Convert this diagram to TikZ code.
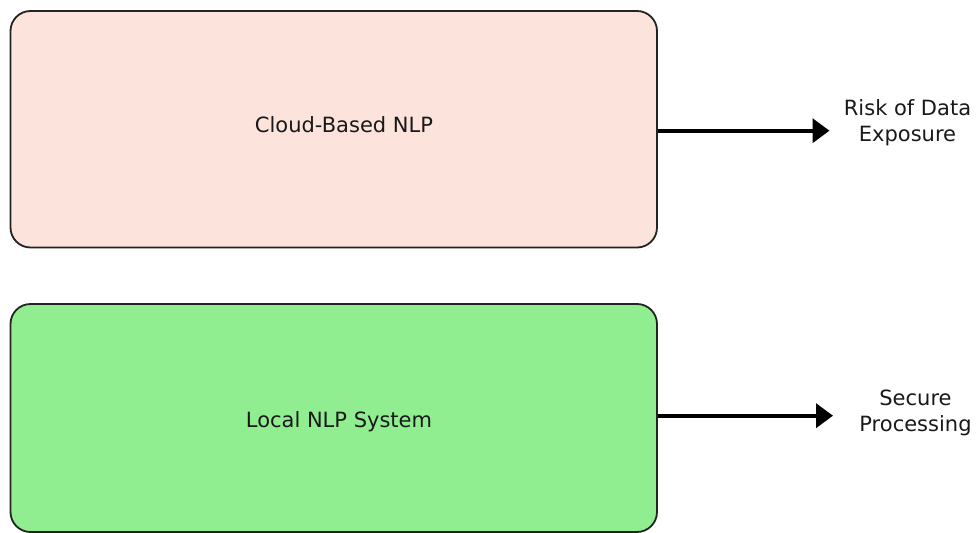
\documentclass[tikz,border=0pt]{standalone}
\usepackage{fontspec}
\setmainfont{DejaVu Sans}
\usetikzlibrary{arrows.meta}
\definecolor{cloudfill}{RGB}{252,228,220}
\definecolor{localfill}{RGB}{144,238,144}
\definecolor{edge}{RGB}{35,35,35}
\definecolor{ink}{RGB}{25,25,25}
\tikzset{
  panel/.style={draw=edge, line width=1.8pt, rounded corners=20pt, inner sep=0pt},
  paneltext/.style={font=\fontsize{21}{26}\selectfont, text=ink, inner sep=0pt, anchor=base},
  outcome/.style={font=\fontsize{21}{26}\selectfont, text=ink, inner sep=0pt, align=center, anchor=base},
  flow/.style={draw=black, line width=3.8pt, -{Triangle[length=17pt,width=24pt]}}
}
\begin{document}
\begin{tikzpicture}[x=1pt, y=-1pt]
  \useasboundingbox (0,0) rectangle (978,533);
  % the two system panels
  \node[panel, fill=cloudfill, minimum width=646.5pt, minimum height=236.5pt] (cloud) at (333.75,129.25) {};
  \node[panel, fill=localfill, minimum width=646.5pt, minimum height=228pt] (local) at (333.75,418) {};
  \node[paneltext] (cloudtext) at (344,132.3) {Cloud-Based NLP};
  \node[paneltext] (localtext) at (339,427.7) {Local NLP System};
  % outcomes (anchored on the baseline of their last line)
  \node[outcome] (risk) at (907.5,141.7) {Risk of Data\\Exposure};
  \node[outcome] (secure) at (915.5,431.7) {Secure\\Processing};
  \coordinate (riskin) at (829.5,130.7);
  \coordinate (securein) at (833,415.7);
  \draw[flow] (cloud.east |- riskin) -- (riskin);
  \draw[flow] (local.east |- securein) -- (securein);
\end{tikzpicture}
\end{document}
